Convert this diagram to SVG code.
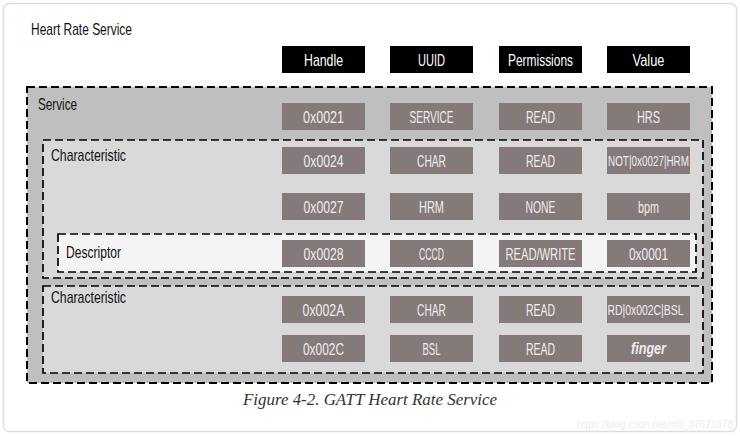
<svg xmlns="http://www.w3.org/2000/svg" width="740" height="436" viewBox="0 0 740 436">
<style>
.t{font-family:"Liberation Sans",Arial,sans-serif}
.hd{fill:#000}
.hdt{fill:#fff;font-size:17px;text-anchor:middle}
.c{fill:#857a7a}
.ct{fill:#f0eded;font-size:17px;text-anchor:middle}
.sm{font-size:15px}
.lbl{fill:#111;font-size:17px}
.dash{stroke:#000;stroke-dasharray:8 4}
</style>
<rect x="3.5" y="3.5" width="733" height="428" rx="6" fill="#fff" stroke="#ddd" stroke-width="1.5"/>
<text class="t lbl" x="31" y="35" font-size="15" textLength="101" lengthAdjust="spacingAndGlyphs">Heart Rate Service</text>
<g id="headers">
<rect class="hd" x="282" y="46" width="83" height="27"/><text class="t hdt" x="323.5" y="66" textLength="39" lengthAdjust="spacingAndGlyphs">Handle</text>
<rect class="hd" x="390" y="46" width="83" height="27"/><text class="t hdt" x="431.5" y="66" textLength="27" lengthAdjust="spacingAndGlyphs">UUID</text>
<rect class="hd" x="499" y="46" width="83" height="27"/><text class="t hdt" x="540.5" y="66" textLength="65" lengthAdjust="spacingAndGlyphs">Permissions</text>
<rect class="hd" x="607" y="46" width="83" height="27"/><text class="t hdt" x="648.5" y="66" textLength="32" lengthAdjust="spacingAndGlyphs">Value</text>
</g>
<g id="service">
<rect class="dash" x="27" y="87" width="685" height="296" fill="#bfbfbf" stroke-width="2"/>
<text class="t lbl" x="38" y="110" textLength="39" lengthAdjust="spacingAndGlyphs">Service</text>
<rect class="c" x="282" y="103" width="83" height="27"/><text class="t ct" x="323.5" y="123" textLength="41" lengthAdjust="spacingAndGlyphs">0x0021</text>
<rect class="c" x="390" y="103" width="83" height="27"/><text class="t ct" x="431.5" y="123" textLength="44" lengthAdjust="spacingAndGlyphs">SERVICE</text>
<rect class="c" x="499" y="103" width="83" height="27"/><text class="t ct" x="540.5" y="123" textLength="29" lengthAdjust="spacingAndGlyphs">READ</text>
<rect class="c" x="607" y="103" width="83" height="27"/><text class="t ct" x="648.5" y="123" textLength="23" lengthAdjust="spacingAndGlyphs">HRS</text>
</g>
<g id="characteristic1">
<rect class="dash" x="43" y="140" width="660" height="138" fill="#d9d9d9" stroke-width="1.7"/>
<text class="t lbl" x="51" y="161" textLength="75" lengthAdjust="spacingAndGlyphs">Characteristic</text>
<rect class="c" x="282" y="147" width="83" height="27"/><text class="t ct" x="323.5" y="167" textLength="40" lengthAdjust="spacingAndGlyphs">0x0024</text>
<rect class="c" x="390" y="147" width="83" height="27"/><text class="t ct" x="431.5" y="167" textLength="29" lengthAdjust="spacingAndGlyphs">CHAR</text>
<rect class="c" x="499" y="147" width="83" height="27"/><text class="t ct" x="540.5" y="167" textLength="29" lengthAdjust="spacingAndGlyphs">READ</text>
<rect class="c" x="607" y="147" width="83" height="27"/><text class="t ct sm" x="648.5" y="166" textLength="81" lengthAdjust="spacingAndGlyphs">NOT|0x0027|HRM</text>
<rect class="c" x="282" y="193" width="83" height="27"/><text class="t ct" x="323.5" y="213" textLength="40" lengthAdjust="spacingAndGlyphs">0x0027</text>
<rect class="c" x="390" y="193" width="83" height="27"/><text class="t ct" x="431.5" y="213" textLength="25" lengthAdjust="spacingAndGlyphs">HRM</text>
<rect class="c" x="499" y="193" width="83" height="27"/><text class="t ct" x="540.5" y="213" textLength="30" lengthAdjust="spacingAndGlyphs">NONE</text>
<rect class="c" x="607" y="193" width="83" height="27"/><text class="t ct" x="648.5" y="213" textLength="21" lengthAdjust="spacingAndGlyphs">bpm</text>
</g>
<g id="descriptor">
<rect class="dash" x="58" y="234" width="638" height="38" fill="#f4f4f4" stroke-width="1.7"/>
<text class="t lbl" x="66" y="258" textLength="55" lengthAdjust="spacingAndGlyphs">Descriptor</text>
<rect class="c" x="282" y="240" width="83" height="27"/><text class="t ct" x="323.5" y="260" textLength="40" lengthAdjust="spacingAndGlyphs">0x0028</text>
<rect class="c" x="390" y="240" width="83" height="27"/><text class="t ct" x="431.5" y="260" textLength="25" lengthAdjust="spacingAndGlyphs">CCCD</text>
<rect class="c" x="499" y="240" width="83" height="27"/><text class="t ct" x="540.5" y="260" textLength="70" lengthAdjust="spacingAndGlyphs">READ/WRITE</text>
<rect class="c" x="607" y="240" width="83" height="27"/><text class="t ct" x="648.5" y="260" textLength="39" lengthAdjust="spacingAndGlyphs">0x0001</text>
</g>
<g id="characteristic2">
<rect class="dash" x="43" y="286" width="660" height="87" fill="#d9d9d9" stroke-width="1.7"/>
<text class="t lbl" x="51" y="303" textLength="75" lengthAdjust="spacingAndGlyphs">Characteristic</text>
<rect class="c" x="282" y="296" width="83" height="27"/><text class="t ct" x="323.5" y="316" textLength="42" lengthAdjust="spacingAndGlyphs">0x002A</text>
<rect class="c" x="390" y="296" width="83" height="27"/><text class="t ct" x="431.5" y="316" textLength="29" lengthAdjust="spacingAndGlyphs">CHAR</text>
<rect class="c" x="499" y="296" width="83" height="27"/><text class="t ct" x="540.5" y="316" textLength="29" lengthAdjust="spacingAndGlyphs">READ</text>
<rect class="c" x="607" y="296" width="83" height="27"/><text class="t ct sm" x="645.5" y="315" textLength="76" lengthAdjust="spacingAndGlyphs">RD|0x002C|BSL</text>
<rect class="c" x="282" y="335" width="83" height="27"/><text class="t ct" x="323.5" y="355" textLength="41" lengthAdjust="spacingAndGlyphs">0x002C</text>
<rect class="c" x="390" y="335" width="83" height="27"/><text class="t ct" x="431.5" y="355" textLength="18" lengthAdjust="spacingAndGlyphs">BSL</text>
<rect class="c" x="499" y="335" width="83" height="27"/><text class="t ct" x="540.5" y="355" textLength="29" lengthAdjust="spacingAndGlyphs">READ</text>
<rect class="c" x="607" y="335" width="83" height="27"/><text class="t ct" x="648.5" y="354" font-size="16" font-weight="bold" font-style="italic" textLength="35" lengthAdjust="spacingAndGlyphs">finger</text>
</g>
<g id="connectors"/>
<text x="370" y="405" font-family="Liberation Serif, serif" font-style="italic" font-size="17" fill="#333" text-anchor="middle" textLength="254" lengthAdjust="spacingAndGlyphs">Figure 4-2. GATT Heart Rate Service</text>
<text x="733" y="428" font-family="Liberation Sans, sans-serif" font-size="10" fill="#ececec" text-anchor="end">https://blog.csdn.net/m0_37621078</text>
</svg>
